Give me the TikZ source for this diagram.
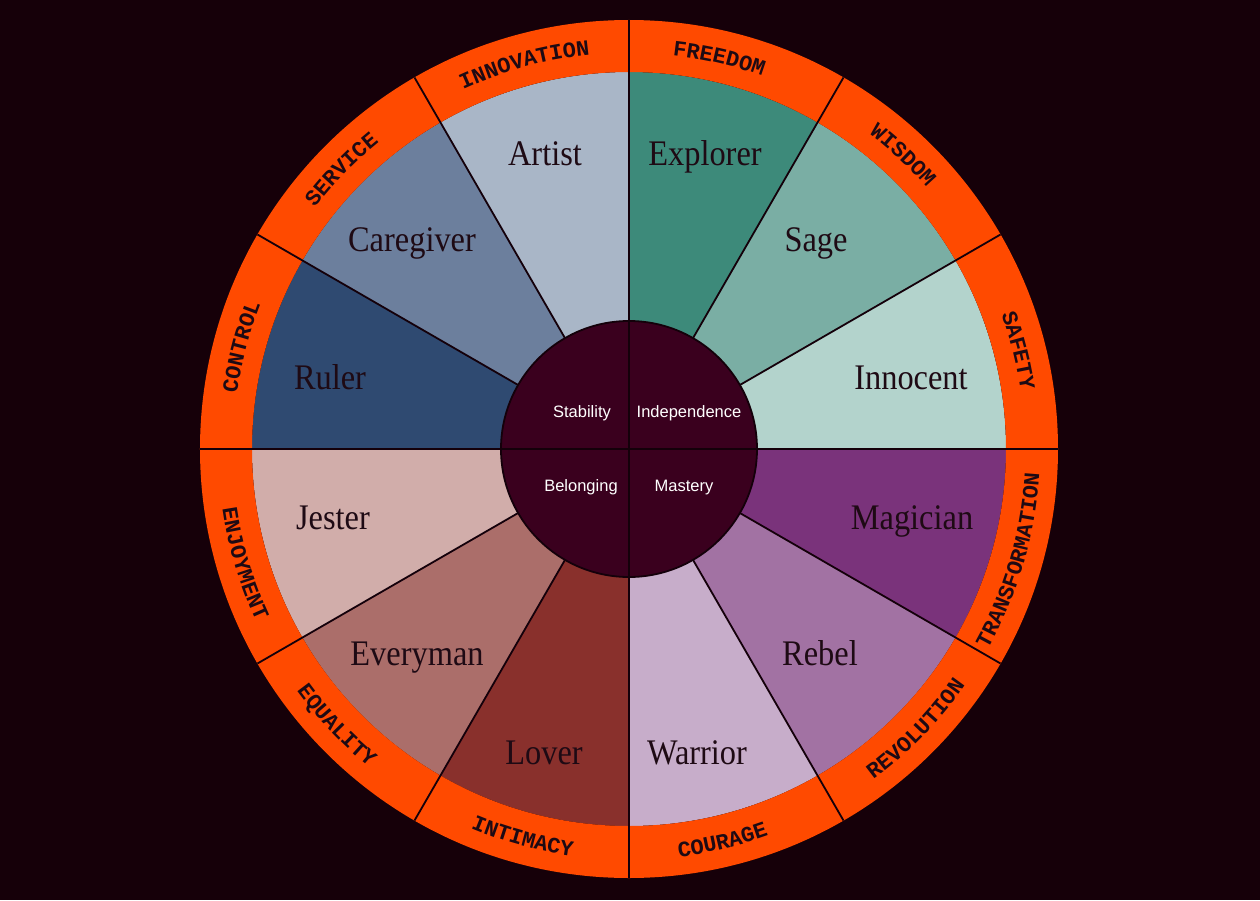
\documentclass[tikz,border=0pt]{standalone}
\usepackage{fontspec}
\usetikzlibrary{decorations.text}
\newfontfamily\wedgefont[FakeStretch=0.9]{Liberation Serif}
\newfontfamily\ringfont{Liberation Mono}
\newfontfamily\censans{Liberation Sans}
\definecolor{bgc}{HTML}{160009}
\definecolor{ringc}{HTML}{FF4A00}
\definecolor{centerc}{HTML}{3A001E}
\definecolor{linec}{HTML}{14000A}
\definecolor{inkc}{HTML}{1E0A14}
\definecolor{explorerc}{HTML}{3D8A7A}
\definecolor{sagec}{HTML}{7AAEA4}
\definecolor{innocentc}{HTML}{B3D3CC}
\definecolor{magicianc}{HTML}{7A337B}
\definecolor{rebelc}{HTML}{A272A3}
\definecolor{warriorc}{HTML}{C7ADCA}
\definecolor{loverc}{HTML}{89302C}
\definecolor{everymanc}{HTML}{AB6E6A}
\definecolor{jesterc}{HTML}{D1ADAA}
\definecolor{rulerc}{HTML}{2F4A71}
\definecolor{caregiverc}{HTML}{6C7F9D}
\definecolor{artistc}{HTML}{A9B6C7}
\tikzset{
  divline/.style={draw=linec, line width=1.8pt},
  archetype/.style={anchor=base, inner sep=0pt, text=inkc, font=\wedgefont\fontsize{36}{40}\selectfont},
  motive/.style={anchor=base, inner sep=0pt, text=white, font=\censans\fontsize{16.5}{18}\selectfont},
}
\newcommand{\ringstyle}{\ringfont\bfseries\fontsize{22}{22}\selectfont}
\begin{document}
\begin{tikzpicture}
\useasboundingbox[fill=bgc] (-629pt,-451pt) rectangle (631pt,449pt);
% wedges
\foreach \a/\c in {60/explorerc,30/sagec,0/innocentc,-30/magicianc,-60/rebelc,-90/warriorc,-120/loverc,-150/everymanc,180/jesterc,150/rulerc,120/caregiverc,90/artistc}{
  \fill[\c] (0,0) -- (\a:377pt) arc[start angle=\a, end angle=\a+30, radius=377pt] -- cycle;
}
% ring
\fill[ringc, even odd rule] (0,0) circle[radius=429pt] (0,0) circle[radius=377pt];
% radial dividers
\foreach \a in {0,30,...,330}{
  \draw[divline] (\a:128pt) -- (\a:429pt);
}
% centre disc
\draw[divline, fill=centerc] (0,0) circle[radius=128pt];
\draw[divline] (0,-128pt) -- (0,128pt);
\draw[divline] (-128pt,0) -- (128pt,0);
% ring labels, upper half
\foreach \m/\t in {77/FREEDOM,47/WISDOM,14.2/SAFETY,165.2/CONTROL,135.8/SERVICE,105.2/INNOVATION}{
  \path[decorate, decoration={text along path, text={|\ringstyle|\t}, text align=center, text color=inkc}]
    (\m+15:396pt) arc[start angle=\m+15, end angle=\m-15, radius=396pt];
}
% ring labels, lower half
\foreach \m/\t in {-16.3/TRANSFORMATION,-44.3/REVOLUTION,-76.6/COURAGE,-105.3/INTIMACY,-136.6/EQUALITY,-163.4/ENJOYMENT}{
  \path[decorate, decoration={text along path, text={|\ringstyle|\t}, text align=center, text color=inkc}]
    (\m-15:411pt) arc[start angle=\m-15, end angle=\m+15, radius=411pt];
}
% archetypes
\node[archetype] (artist) at (-84pt,283pt) {Artist};
\node[archetype] (explorer) at (76pt,283pt) {Explorer};
\node[archetype] (caregiver) at (-217pt,198pt) {Caregiver};
\node[archetype] (sage) at (187pt,198pt) {Sage};
\node[archetype] (ruler) at (-299pt,60pt) {Ruler};
\node[archetype] (innocent) at (282pt,60pt) {Innocent};
\node[archetype] (jester) at (-296pt,-80pt) {Jester};
\node[archetype] (magician) at (283pt,-80pt) {Magician};
\node[archetype] (everyman) at (-212pt,-216pt) {Everyman};
\node[archetype] (rebel) at (191pt,-216pt) {Rebel};
\node[archetype] (lover) at (-85pt,-315pt) {Lover};
\node[archetype] (warrior) at (68pt,-315pt) {Warrior};
% centre motives
\node[motive] (stability) at (-47pt,32pt) {Stability};
\node[motive] (independence) at (60pt,32pt) {Independence};
\node[motive] (belonging) at (-48pt,-42pt) {Belonging};
\node[motive] (mastery) at (55pt,-42pt) {Mastery};
\end{tikzpicture}
\end{document}
